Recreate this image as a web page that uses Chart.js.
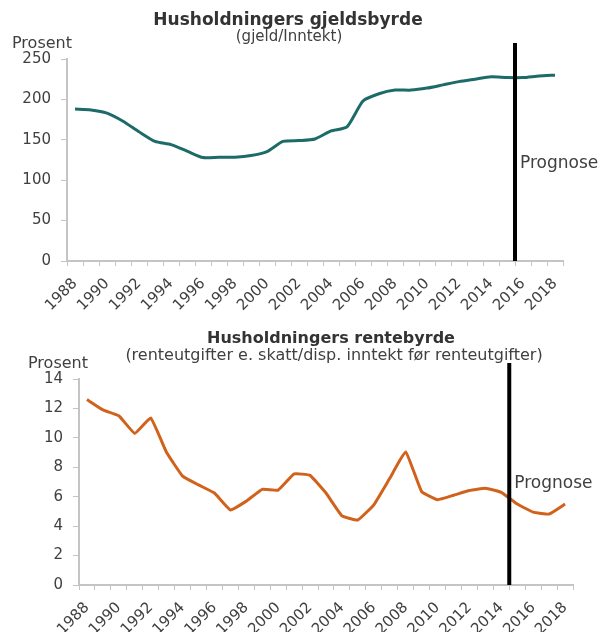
<!DOCTYPE html>
<html lang="no">
<head>
<meta charset="utf-8">
<title>Husholdningers gjeldsbyrde og rentebyrde</title>
<script src="https://cdn.jsdelivr.net/npm/chart.js@4.4.1/dist/chart.umd.min.js"></script>
<style>
  html, body { margin: 0; padding: 0; background: #fff; }
  #ramme { position: relative; width: 603px; height: 632px; }
  #ramme canvas { position: absolute; left: 0; }
  #gjeld { top: 0; }
  #rente { top: 318px; }
</style>
</head>
<body>
<div id="ramme">
  <canvas id="gjeld" width="603" height="318"></canvas>
  <canvas id="rente" width="603" height="314"></canvas>
</div>
<script>
// Årstall på x-aksen
const aar = ['1988', '1989', '1990', '1991', '1992', '1993', '1994', '1995', '1996', '1997',
             '1998', '1999', '2000', '2001', '2002', '2003', '2004', '2005', '2006', '2007',
             '2008', '2009', '2010', '2011', '2012', '2013', '2014', '2015', '2016', '2017', '2018'];

// Gjeld i prosent av inntekt
const gjeldsbyrde = [188, 187, 183, 173, 160, 148, 144, 136, 128, 128.5,
                     128.5, 130.5, 135.5, 148, 149, 151, 161, 166, 198, 207,
                     211.5, 211.5, 214, 218, 222, 225, 228, 227, 227, 229, 230];

// Renteutgifter i prosent av disponibel inntekt
const rentebyrde = [12.6, 11.9, 11.5, 10.3, 11.35, 9.0, 7.4, 6.8, 6.25, 5.1,
                    5.7, 6.5, 6.45, 7.55, 7.45, 6.25, 4.7, 4.42, 5.45, 7.25,
                    9.05, 6.35, 5.8, 6.1, 6.42, 6.58, 6.3, 5.5, 4.95, 4.82, 5.5];

// Y-akser
const gjeldTicks = [0, 50, 100, 150, 200, 250];
const renteTicks = [0, 2, 4, 6, 8, 10, 12, 14];

const gra = '#c4c4c4';
const tekstFarge = '#404040';
const font = 'DejaVu Sans';

// Tegner titler, "Prosent" og prognoselinjen
const tekstPlugin = {
    id: 'tekster',
    afterDraw(chart, args, o) {
        const ctx = chart.ctx;
        const x = chart.scales.x;
        const area = chart.chartArea;
        ctx.save();

        // prognoselinje mellom to år
        const i = chart.data.labels.indexOf(o.prognoseFra);
        const px = (x.getPixelForValue(i - 1) + x.getPixelForValue(i)) / 2;
        ctx.strokeStyle = '#000';
        ctx.lineWidth = 4;
        ctx.beginPath();
        ctx.moveTo(px, area.top - 16);
        ctx.lineTo(px, area.bottom);
        ctx.stroke();

        ctx.fillStyle = tekstFarge;
        ctx.textBaseline = 'alphabetic';
        ctx.textAlign = 'left';
        ctx.font = '17px "' + font + '"';
        ctx.fillText('Prognose', px + 5, o.prognoseY);
        ctx.font = '16px "' + font + '"';
        ctx.fillText('Prosent', o.prosentX, o.prosentY);

        ctx.textAlign = 'center';
        ctx.fillStyle = '#333';
        ctx.font = 'bold ' + o.tittelStr + 'px "' + font + '"';
        ctx.fillText(o.tittel, o.tittelX, o.tittelY);
        ctx.fillStyle = tekstFarge;
        ctx.font = o.underStr + 'px "' + font + '"';
        ctx.fillText(o.undertittel, o.underX, o.underY);
        ctx.restore();
    }
};

function lagGraf(id, verdier, farge, spenning, yTicks, oppsett) {
    return new Chart(document.getElementById(id), {
        type: 'line',
        data: {
            labels: aar,
            datasets: [{
                data: verdier,
                borderColor: farge,
                borderWidth: 3,
                pointRadius: 0,
                tension: spenning,
                fill: false
            }]
        },
        options: {
            responsive: false,
            animation: false,
            layout: { padding: { left: 0, top: oppsett.topp, right: oppsett.hoyre, bottom: 0 } },
            plugins: {
                legend: { display: false },
                tooltip: { enabled: false },
                tekster: oppsett
            },
            scales: {
                x: {
                    offset: true,
                    grid: { offset: true, drawOnChartArea: false, tickLength: 5, color: gra },
                    border: { color: gra, width: 2 },
                    ticks: {
                        autoSkip: false,
                        minRotation: 45,
                        maxRotation: 45,
                        padding: 9,
                        color: tekstFarge,
                        font: { family: font, size: 15 },
                        callback: (v, i) => i % 2 === 0 ? aar[i] : ''
                    },
                    afterFit: s => {
                        s.height = oppsett.xHoyde;
                        s.paddingLeft = 0;
                        s.paddingRight = 0;
                    }
                },
                y: {
                    min: yTicks[0],
                    max: yTicks[yTicks.length - 1],
                    grid: { drawOnChartArea: false, tickLength: 6, color: gra },
                    border: { color: gra, width: 2 },
                    afterBuildTicks: s => { s.ticks = yTicks.map(v => ({ value: v })); },
                    ticks: {
                        padding: 10,
                        color: tekstFarge,
                        font: { family: font, size: 15 }
                    },
                    afterFit: s => {
                        s.width = oppsett.yBredde;
                        s.paddingTop = 0;
                        s.paddingBottom = 0;
                    }
                }
            }
        },
        plugins: [tekstPlugin]
    });
}

lagGraf('gjeld', gjeldsbyrde, '#1d6b68', 0.2, gjeldTicks, {
    topp: 59, hoyre: 40, xHoyde: 57, yBredde: 67,
    tittel: 'Husholdningers gjeldsbyrde', tittelStr: 17, tittelX: 288, tittelY: 25,
    undertittel: '(gjeld/Inntekt)', underStr: 15, underX: 289, underY: 41,
    prosentX: 12, prosentY: 48,
    prognoseFra: '2016', prognoseY: 168
});

lagGraf('rente', rentebyrde, '#d0621c', 0.1, renteTicks, {
    topp: 61, hoyre: 30, xHoyde: 47, yBredde: 79,
    tittel: 'Husholdningers rentebyrde', tittelStr: 16, tittelX: 331, tittelY: 25,
    undertittel: '(renteutgifter e. skatt/disp. inntekt før renteutgifter)', underStr: 16, underX: 334, underY: 42,
    prosentX: 28, prosentY: 50,
    prognoseFra: '2015', prognoseY: 170
});
</script>
</body>
</html>
